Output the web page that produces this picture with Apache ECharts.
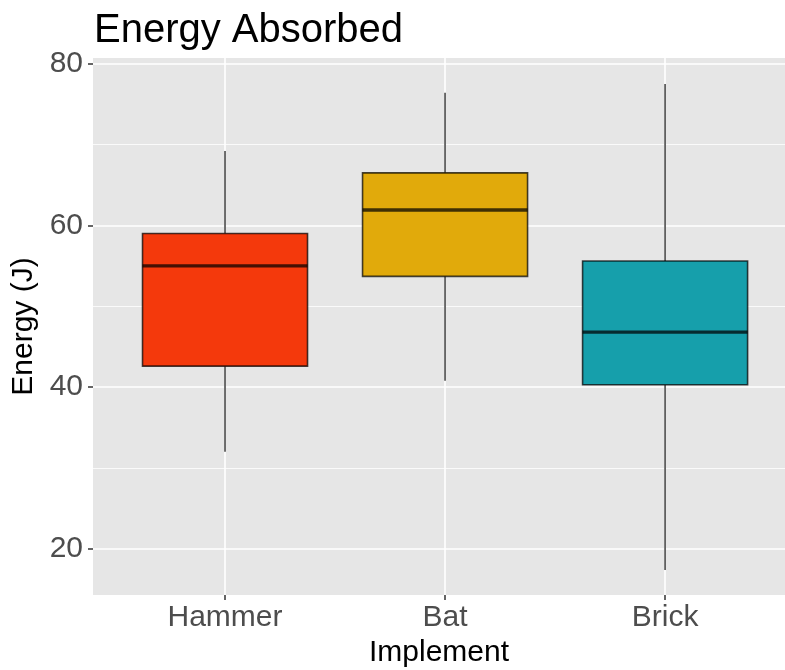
<!DOCTYPE html>
<html>
<head>
<meta charset="utf-8">
<script src="https://cdn.jsdelivr.net/npm/echarts@6/dist/echarts.min.js"></script>
<style>
  html, body { margin: 0; padding: 0; background: #ffffff; }
  #chart { width: 785px; height: 670px; }
</style>
</head>
<body>
<div id="chart"></div>
<script>
// ---- data ----
const categories = ['Hammer', 'Bat', 'Brick'];
const whiskerLow = [32.0, 40.8, 17.4];
const quartile1 = [42.6, 53.7, 40.3];
const medians = [55.0, 61.9, 46.8];
const quartile3 = [59.0, 66.5, 55.6];
const whiskerHigh = [69.2, 76.4, 77.5];
const yTicks = [20, 40, 60, 80];
const yMinorTicks = [30, 50, 70];

// ---- styles ----
const fillColors = ['#F4390C', '#E1AA0B', '#169FAB'];
const FONT = '"Liberation Sans", Arial, Helvetica, sans-serif';

const boxData = categories.map((c, i) => [i, whiskerLow[i], quartile1[i], medians[i], quartile3[i], whiskerHigh[i]]);

function renderBox(params, api) {
  const i = api.value(0);
  const center = api.coord([i, api.value(3)]);
  const halfW = api.size([0.75, 0])[0] / 2;
  const x = center[0];
  const yLow = api.coord([i, api.value(1)])[1];
  const yQ1 = api.coord([i, api.value(2)])[1];
  const yMed = center[1];
  const yQ3 = api.coord([i, api.value(4)])[1];
  const yHigh = api.coord([i, api.value(5)])[1];
  const stroke = 'rgba(0,0,0,0.72)';
  return {
    type: 'group',
    children: [
      { type: 'line', shape: { x1: x, y1: yHigh, x2: x, y2: yQ3 }, style: { stroke: '#4a4a4a', lineWidth: 1.6 } },
      { type: 'line', shape: { x1: x, y1: yQ1, x2: x, y2: yLow }, style: { stroke: '#4a4a4a', lineWidth: 1.6 } },
      { type: 'rect', shape: { x: x - halfW, y: yQ3, width: halfW * 2, height: yQ1 - yQ3 },
        style: { fill: fillColors[params.dataIndex], stroke: stroke, lineWidth: 1.6 } },
      { type: 'line', shape: { x1: x - halfW, y1: yMed, x2: x + halfW, y2: yMed }, style: { stroke: stroke, lineWidth: 3.4 } }
    ]
  };
}

const chart = echarts.init(document.getElementById('chart'), null, { renderer: 'canvas' });
chart.setOption({
  animation: false,
  backgroundColor: '#ffffff',
  title: {
    text: 'Energy Absorbed',
    left: 94,
    top: 11,
    padding: 0,
    textStyle: { fontFamily: FONT, fontSize: 40, fontWeight: 'normal', color: '#000000' }
  },
  grid: {
    left: 93,
    top: 58,
    right: 0,
    height: 537,
    show: true,
    backgroundColor: '#E6E6E6',
    borderWidth: 0,
    containLabel: false,
    outerBoundsMode: 'none'
  },
  xAxis: {
    type: 'value',
    min: -0.6,
    max: 2.545,
    name: 'Implement',
    nameLocation: 'middle',
    nameGap: 42,
    nameTextStyle: { fontFamily: FONT, fontSize: 30, color: '#000000' },
    axisLine: { show: false, onZero: false },
    axisTick: { show: true, length: 5, customValues: [0, 1, 2], lineStyle: { color: '#333333', width: 1.5 } },
    axisLabel: {
      customValues: [0, 1, 2],
      margin: 8,
      fontFamily: FONT, fontSize: 30, color: '#4D4D4D',
      formatter: v => categories[Math.round(v)] || ''
    },
    splitLine: { show: true, lineStyle: { color: '#ffffff', width: 1.6 } }
  },
  yAxis: [
    {
      type: 'value',
      min: 14.3,
      max: 80.7,
      name: 'Energy (J)',
      nameLocation: 'middle',
      nameGap: 44,
      nameRotate: 90,
      nameTextStyle: { fontFamily: FONT, fontSize: 30, color: '#000000' },
      axisLine: { show: false, onZero: false },
      axisTick: { show: true, length: 5, customValues: yTicks, lineStyle: { color: '#333333', width: 1.5 } },
      axisLabel: { customValues: yTicks, margin: 10, fontFamily: FONT, fontSize: 30, color: '#4D4D4D' },
      splitLine: { show: true, lineStyle: { color: '#ffffff', width: 1.6 } }
    },
    {
      type: 'value',
      min: 14.3,
      max: 80.7,
      position: 'left',
      axisLine: { show: false, onZero: false },
      axisTick: { show: false, customValues: yMinorTicks },
      axisLabel: { show: false, customValues: yMinorTicks },
      splitLine: { show: true, lineStyle: { color: '#ffffff', width: 0.8 } }
    }
  ],
  series: [{
    type: 'custom',
    name: 'Energy',
    xAxisIndex: 0,
    yAxisIndex: 0,
    renderItem: renderBox,
    encode: { x: 0, y: [1, 2, 3, 4, 5] },
    data: boxData,
    z: 3
  }]
});
</script>
</body>
</html>
